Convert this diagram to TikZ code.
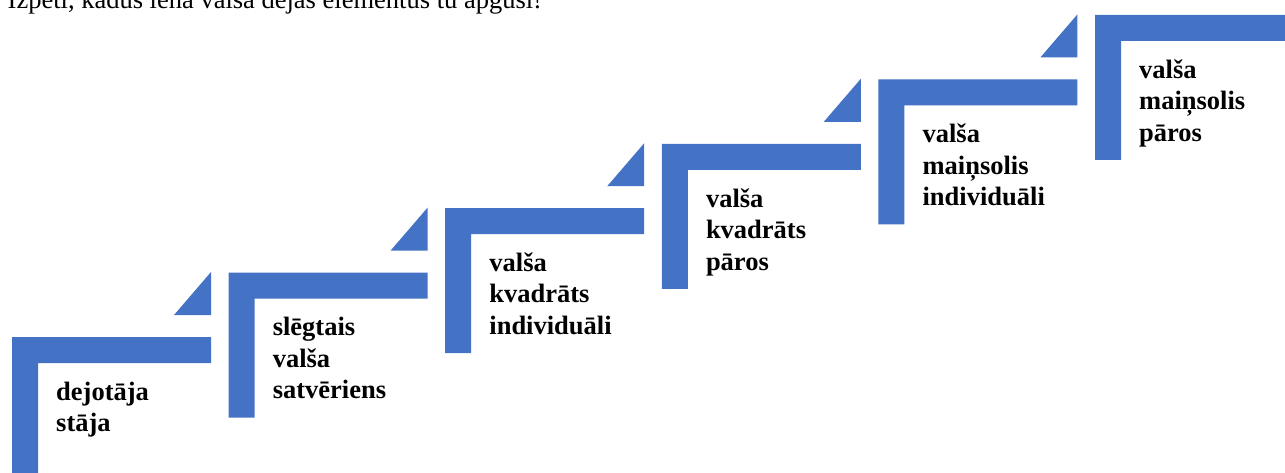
\documentclass[tikz,border=0pt]{standalone}
\usepackage{fontspec}
\setmainfont{Liberation Serif}
\definecolor{stepblue}{HTML}{4472C4}
\tikzset{
  stepshape/.style={fill=stepblue, draw=none},
  steplabel/.style={anchor=north west, inner sep=0pt, align=left,
    font=\fontsize{26.5}{31.5}\selectfont\bfseries},
  titletext/.style={anchor=base west, inner sep=0pt,
    font=\fontsize{26.5}{31.5}\selectfont},
}
\begin{document}
\begin{tikzpicture}[x=1pt,y=-1pt]
\useasboundingbox (0,0) rectangle (1285,473);
\clip (0,0) rectangle (1285,473);
\fill[white] (0,0) rectangle (1285,473);
\node[titletext] (title) at (7.5,9) {Izpēti, kādus lēnā valša dejas elementus tu apgūsi!};
\foreach \i/\t in {0/{dejotāja\\stāja},
                   1/{slēgtais\\valša\\satvēriens},
                   2/{valša\\kvadrāts\\individuāli},
                   3/{valša\\kvadrāts\\pāros},
                   4/{valša\\maiņsolis\\individuāli},
                   5/{valša\\maiņsolis\\pāros}}{
  \pgfmathsetmacro\xx{12+216.6*\i}
  \pgfmathsetmacro\yy{337-64.4*\i}
  \fill[stepshape] (\xx,\yy) -- ++(199,0) -- ++(0,26) -- ++(-173,0) -- ++(0,119) -- ++(-26,0) -- cycle;
  \fill[stepshape] (\xx+162,\yy-22) -- (\xx+199,\yy-22) -- (\xx+199,\yy-65) -- cycle;
  \node[steplabel] (step\i) at (\xx+44,\yy+43) {\rule{0pt}{20pt}\t};
}
\end{tikzpicture}
\end{document}
